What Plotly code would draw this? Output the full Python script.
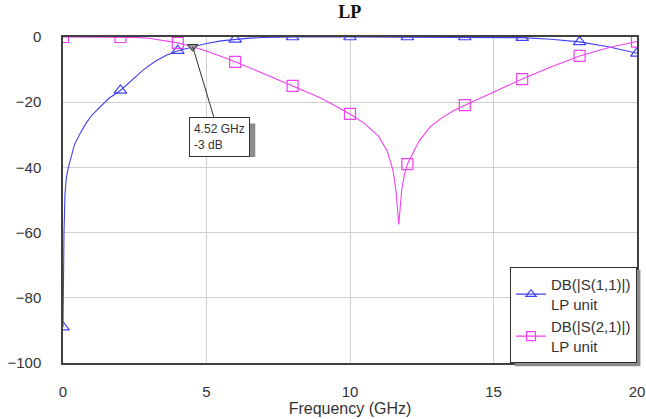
import plotly.graph_objects as go

# ---- data ----
s11_freq = [0, 0.01, 0.035, 0.07, 0.12, 0.2, 0.4, 0.6, 0.8, 1.0, 1.3, 1.6, 2.0, 2.4, 2.8, 3.2,
            3.6, 4.0, 4.52, 5.0, 5.5, 6.0, 6.5, 7.0, 7.5, 8.0, 10.0, 12.0, 14.0, 15.0, 16.0,
            17.0, 18.0, 19.0, 20.0]
s11_db = [-89, -78, -60, -48, -43, -39.5, -33, -29.5, -26.5, -24, -21.4, -18.8, -16.4, -13.4,
          -10.1, -7.5, -5.6, -4.2, -3.0, -2.0, -1.2, -0.7, -0.35, -0.15, -0.05, 0, 0, 0, 0, 0,
          -0.2, -0.7, -1.5, -3.0, -5.0]

s21_freq = [0, 1, 2, 2.5, 3, 3.5, 4, 4.52, 5, 5.5, 6, 7, 8, 9, 10, 10.5, 11, 11.3, 11.5, 11.6,
            11.7, 11.8, 11.9, 12, 12.4, 12.8, 13.2, 13.6, 14, 15, 16, 17, 18, 19, 20]
s21_db = [0, 0, 0, -0.1, -0.4, -1.0, -1.8, -3.0, -4.3, -5.9, -7.6, -11.3, -15.0, -18.8, -23.6,
          -26.5, -30.5, -35, -41, -47, -57.5, -47, -42, -39, -32, -27.5, -24.8, -22.6, -20.9,
          -16.8, -12.9, -9.2, -5.8, -3.3, -1.4]

marker_freqs = [0, 2, 4, 6, 8, 10, 12, 14, 16, 18, 20]

s11_name = "DB(|S(1,1)|)<br>LP unit"
s21_name = "DB(|S(2,1)|)<br>LP unit"

marker_label = ["4.52 GHz", "-3 dB"]
marker_x = 4.52
marker_y = -3

title_text = "LP"
x_title = "Frequency (GHz)"
x_ticks = [0, 5, 10, 15, 20]
y_ticks = [-100, -80, -60, -40, -20, 0]

BLUE = "#4040f0"
MAGENTA = "#f040f0"
TEXT = "#333333"


def pick(freqs, vals, keep):
    xs, ys = [], []
    for f, v in zip(freqs, vals):
        if any(abs(f - k) < 1e-9 for k in keep):
            xs.append(f)
            ys.append(v)
    return xs, ys


fig = go.Figure()

for freqs, vals, color, sym, name in [
    (s11_freq, s11_db, BLUE, "triangle-up-open", s11_name),
    (s21_freq, s21_db, MAGENTA, "square-open", s21_name),
]:
    fig.add_trace(go.Scatter(x=freqs, y=vals, mode="lines",
                             line=dict(color=color, width=1.1),
                             showlegend=False, hoverinfo="skip"))
    mx, my = pick(freqs, vals, marker_freqs)
    fig.add_trace(go.Scatter(x=mx, y=my, mode="markers",
                             marker=dict(symbol=sym, size=11, color=color,
                                         line=dict(width=1.2, color=color)),
                             showlegend=False))
    fig.add_trace(go.Scatter(x=[None], y=[None], mode="lines+markers", name=name,
                             line=dict(color=color, width=1.1),
                             marker=dict(symbol=sym, size=9, color=color,
                                         line=dict(width=1.2, color=color))))

# marker point
fig.add_trace(go.Scatter(x=[marker_x], y=[marker_y], mode="markers",
                         marker=dict(symbol="triangle-down", size=9, color="#9a9a9a",
                                     line=dict(width=1, color="#303030")),
                         showlegend=False, cliponaxis=False))

fig.add_annotation(x=marker_x, y=marker_y, xref="x", yref="y",
                   text="<br>".join(marker_label), showarrow=True, arrowhead=0,
                   arrowwidth=1, arrowcolor="#303030", ax=27, ay=90,
                   align="left", bgcolor="white", bordercolor="#303030", borderwidth=1,
                   borderpad=4, font=dict(family="Liberation Sans, Arial", size=12, color=TEXT))

# drop shadows (annotation box and legend)
fig.add_shape(type="rect", xref="x", yref="y", x0=4.52, x1=6.70, y0=-26.5, y1=-36.8,
              line=dict(width=0), fillcolor="#8c8c8c", layer="above")
fig.add_shape(type="rect", xref="paper", yref="paper", x0=0.787, x1=1.006, y0=-0.010, y1=0.285,
              line=dict(width=0), fillcolor="#8c8c8c", layer="above")

axis_common = dict(showline=True, linecolor="#404040", linewidth=1.5, mirror=True,
                   showgrid=True, gridcolor="#cfcfcf", gridwidth=1, zeroline=False,
                   automargin=False,
                   ticks="", tickfont=dict(family="Liberation Sans, Arial", size=15, color=TEXT))

fig.update_layout(
    width=646, height=419,
    margin=dict(l=63, r=9, t=37, b=56, autoexpand=False),
    paper_bgcolor="white", plot_bgcolor="white",
    title=dict(text="<b>" + title_text + "</b>", x=0.5415, xanchor="center", y=0.972,
               yanchor="middle",
               font=dict(family="Liberation Serif, Times New Roman", size=18, color="#111111")),
    xaxis=dict(range=[0, 20], tickvals=x_ticks, ticklabelstandoff=14,
               title=dict(text=x_title, standoff=4,
                          font=dict(family="Liberation Sans, Arial", size=16, color=TEXT)),
               **axis_common),
    yaxis=dict(range=[-100, 0], tickvals=y_ticks, ticklabelstandoff=17, **axis_common),
    legend=dict(x=1.0, xanchor="right", y=0.294, yanchor="top",
                bgcolor="white", bordercolor="#303030", borderwidth=1,
                font=dict(family="Liberation Sans, Arial", size=15, color=TEXT),
                tracegroupgap=4, itemwidth=30),
    showlegend=True,
)

fig.write_html("out.html", config={"displayModeBar": False},
               post_script="document.body.style.margin='0';")
